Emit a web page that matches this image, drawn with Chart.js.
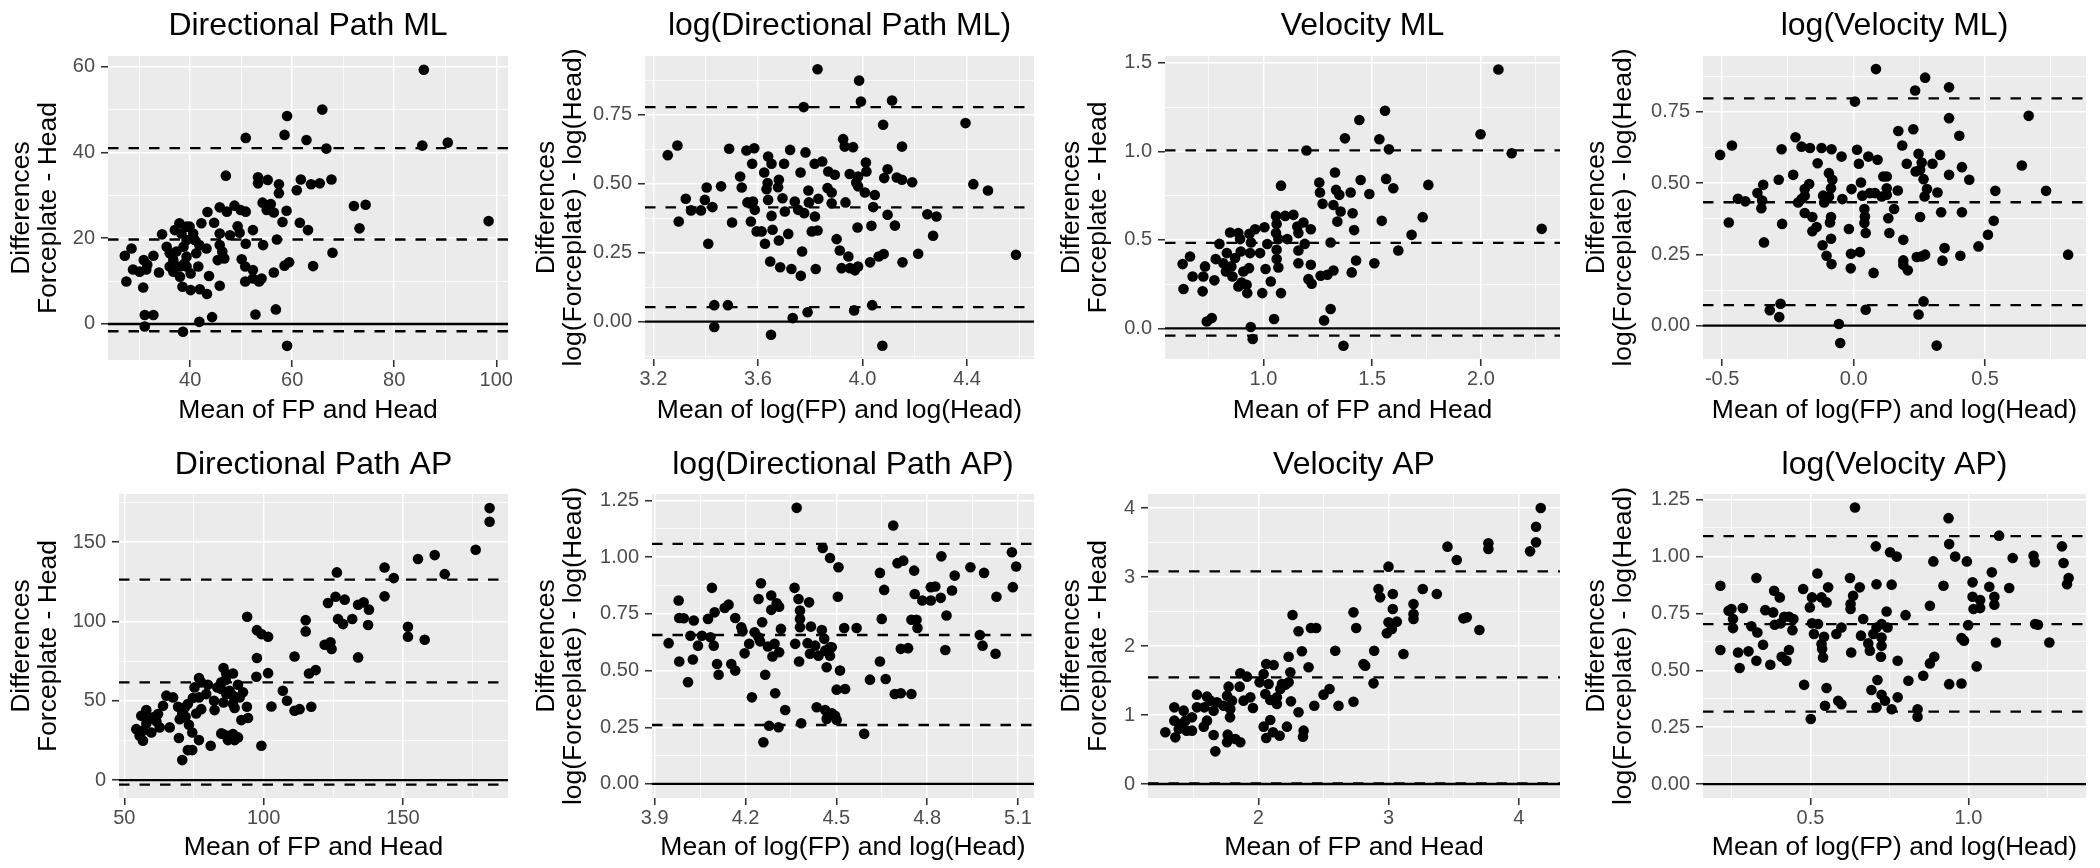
<!DOCTYPE html>
<html>
<head>
<meta charset="utf-8">
<title>Bland-Altman plots</title>
<script src="https://cdn.jsdelivr.net/npm/chart.js@4.4.1/dist/chart.umd.min.js"></script>
<style>
  body { margin: 0; background: #fff; }
  #wrap { position: relative; width: 2100px; height: 868px; overflow: hidden; }
  #wrap canvas { position: absolute; }
</style>
</head>
<body>
<div id="wrap">
  <canvas id="p1" width="525" height="434" style="left:0;top:0"></canvas>
  <canvas id="p2" width="525" height="434" style="left:525px;top:0"></canvas>
  <canvas id="p3" width="525" height="434" style="left:1050px;top:0"></canvas>
  <canvas id="p4" width="525" height="434" style="left:1575px;top:0"></canvas>
  <canvas id="p5" width="525" height="434" style="left:0;top:434px"></canvas>
  <canvas id="p6" width="525" height="434" style="left:525px;top:434px"></canvas>
  <canvas id="p7" width="525" height="434" style="left:1050px;top:434px"></canvas>
  <canvas id="p8" width="525" height="434" style="left:1575px;top:434px"></canvas>
</div>
<script>
// ---- data: [mean, difference] pairs ----
const dirPathML = [[85.8,59.3],[65.9,50.0],[59.0,48.5],[50.9,43.4],[58.5,44.1],[62.8,42.9],[66.7,40.9],[85.5,41.6],[90.5,42.3],[47.0,34.6],[53.3,34.2],[55.2,33.6],[53.3,32.8],[57.4,32.6],[61.7,33.7],[63.7,32.6],[65.4,32.8],[67.7,33.7],[60.9,31.2],[57.4,30.5],[72.1,27.5],[74.4,27.8],[73.2,22.3],[98.5,24.0],[54.2,28.3],[55.8,28.0],[55.0,26.6],[56.4,26.0],[58.9,26.4],[58.1,23.8],[61.5,23.6],[63.1,21.9],[57.0,19.7],[54.3,18.4],[67.9,16.6],[64.1,13.5],[58.5,13.6],[59.4,14.4],[56.4,12.0],[56.8,3.4],[52.8,2.2],[59.0,-5.1],[45.8,27.2],[47.2,26.2],[48.7,27.6],[49.9,26.6],[50.9,26.2],[43.4,26.1],[42.2,23.5],[44.7,23.6],[45.8,21.1],[47.8,20.7],[49.3,22.8],[49.7,21.3],[52.3,21.9],[50.9,18.7],[45.8,18.4],[46.3,16.9],[46.7,15.3],[45.4,14.9],[43.2,17.6],[41.8,18.4],[41.2,16.5],[41.6,13.4],[43.7,11.2],[45.8,8.9],[41.9,8.1],[43.3,7.0],[40.1,7.9],[38.5,8.7],[40.1,11.8],[38.9,14.1],[39.3,15.7],[50.1,15.1],[50.8,13.4],[52.3,12.6],[52.3,10.6],[50.8,9.9],[53.5,9.9],[54.0,10.6],[39.3,22.7],[38.3,21.1],[37.0,21.9],[37.9,23.5],[39.9,22.7],[40.6,21.1],[40.9,19.6],[39.3,19.6],[38.7,18.0],[37.3,16.9],[36.0,16.5],[35.4,18.0],[36.7,14.9],[36.0,13.4],[38.0,13.4],[36.7,12.2],[38.0,11.0],[39.3,13.4],[34.5,20.9],[33.9,12.0],[32.8,15.9],[30.9,14.9],[31.4,12.7],[30.1,12.2],[28.8,12.7],[28.5,17.6],[27.2,15.9],[27.5,9.9],[30.8,8.5],[31.1,2.1],[32.8,2.1],[31.1,-0.6],[38.6,-1.8],[41.8,0.5],[44.3,1.6],[31.6,13.8]];
const dirPathMLLimits = [41.0, 19.7, -1.7];
const dirPathMLX = ['40', '60', '80', '100'];
const dirPathMLY = ['0', '20', '40', '60'];

const logDirPathML = [[3.828,0.914],[3.987,0.873],[3.994,0.797],[4.113,0.801],[3.775,0.777],[4.079,0.713],[4.394,0.719],[4.424,0.498],[4.480,0.475],[4.587,0.242],[3.255,0.603],[3.292,0.638],[3.324,0.445],[3.297,0.363],[3.344,0.403],[3.382,0.403],[3.397,0.441],[3.404,0.486],[3.426,0.415],[3.459,0.490],[3.410,0.282],[3.490,0.626],[3.501,0.359],[3.532,0.526],[3.538,0.486],[3.556,0.620],[3.586,0.628],[3.578,0.572],[3.560,0.432],[3.581,0.435],[3.588,0.405],[3.573,0.363],[3.595,0.327],[3.614,0.327],[3.627,0.282],[3.639,0.598],[3.652,0.572],[3.624,0.540],[3.637,0.502],[3.633,0.480],[3.639,0.441],[3.652,0.383],[3.656,0.333],[3.680,0.514],[3.677,0.487],[3.694,0.447],[3.700,0.572],[3.680,0.294],[3.716,0.318],[3.703,0.399],[3.723,0.622],[3.647,0.218],[3.685,0.197],[3.728,0.191],[3.764,0.166],[3.769,0.254],[3.763,0.540],[3.782,0.613],[3.741,0.435],[3.754,0.405],[3.777,0.393],[3.793,0.475],[3.795,0.432],[3.806,0.327],[3.818,0.381],[3.817,0.572],[3.846,0.580],[3.831,0.445],[3.828,0.330],[3.821,0.191],[3.869,0.544],[3.894,0.532],[3.866,0.484],[3.882,0.468],[3.882,0.429],[3.935,0.432],[3.926,0.661],[3.932,0.634],[3.964,0.632],[3.951,0.535],[3.983,0.526],[3.983,0.490],[3.976,0.504],[4.009,0.468],[4.013,0.576],[4.015,0.544],[4.047,0.459],[4.041,0.415],[4.034,0.347],[3.981,0.341],[3.901,0.299],[3.913,0.258],[3.946,0.236],[3.920,0.194],[3.952,0.194],[3.971,0.186],[3.983,0.200],[4.029,0.215],[4.062,0.236],[4.081,0.245],[4.096,0.552],[4.083,0.520],[4.096,0.387],[4.124,0.348],[4.131,0.522],[4.151,0.634],[4.151,0.514],[4.190,0.505],[4.153,0.215],[4.213,0.246],[4.248,0.389],[4.283,0.381],[4.270,0.311],[3.433,0.060],[3.485,0.060],[3.433,-0.019],[3.650,-0.047],[3.733,0.013],[3.790,0.034],[3.968,0.041],[4.037,0.060],[4.076,-0.087]];
const logDirPathMLLimits = [0.777, 0.414, 0.053];
const logDirPathMLX = ['3.2', '3.6', '4.0', '4.4'];
const logDirPathMLY = ['0.00', '0.25', '0.50', '0.75'];

const velML = [[2.080,1.462],[1.559,1.229],[1.441,1.177],[1.375,1.073],[1.533,1.068],[1.577,1.011],[1.198,1.004],[1.998,1.096],[2.141,0.989],[2.279,0.562],[1.081,0.806],[1.329,0.880],[1.257,0.823],[1.260,0.767],[1.447,0.838],[1.487,0.759],[1.564,0.844],[1.597,0.791],[1.758,0.810],[1.401,0.767],[1.334,0.782],[1.349,0.754],[1.272,0.703],[1.322,0.697],[1.355,0.660],[1.410,0.650],[1.340,0.603],[1.544,0.607],[1.417,0.555],[1.309,0.485],[1.732,0.628],[1.681,0.528],[1.620,0.440],[1.510,0.368],[1.426,0.383],[1.406,0.316],[1.322,0.327],[1.294,0.303],[1.263,0.297],[1.222,0.252],[1.207,0.278],[1.218,0.359],[1.218,0.560],[1.184,0.598],[1.156,0.575],[1.138,0.641],[1.100,0.635],[1.058,0.635],[1.061,0.590],[1.058,0.538],[1.069,0.504],[1.110,0.504],[1.161,0.538],[1.190,0.477],[1.161,0.440],[1.161,0.368],[1.061,0.444],[1.061,0.391],[1.069,0.344],[1.018,0.476],[1.010,0.335],[1.034,0.265],[0.995,0.199],[1.081,0.199],[1.049,0.053],[1.005,0.571],[0.962,0.560],[0.985,0.425],[0.936,0.534],[0.943,0.485],[0.934,0.340],[0.923,0.246],[0.926,0.199],[0.900,0.259],[0.908,0.321],[0.896,0.434],[0.893,0.504],[0.885,0.538],[0.847,0.541],[0.870,0.397],[0.853,0.350],[0.858,0.293],[0.832,0.425],[0.816,0.368],[0.828,0.321],[0.798,0.477],[0.781,0.391],[0.775,0.271],[0.732,0.350],[0.724,0.293],[0.721,0.209],[0.675,0.293],[0.663,0.406],[0.629,0.363],[0.633,0.222],[0.740,0.039],[0.763,0.058],[0.942,0.008],[0.951,-0.060],[1.279,0.045],[1.309,0.109],[1.368,-0.098],[0.885,0.237],[0.939,0.425]];
const velMLLimits = [1.005, 0.483, -0.041];
const velMLX = ['1.0', '1.5', '2.0'];
const velMLY = ['0.0', '0.5', '1.0', '1.5'];

const logVelML = [[0.085,0.900],[0.272,0.870],[0.234,0.825],[0.363,0.836],[0.005,0.786],[0.363,0.728],[0.666,0.736],[0.227,0.689],[0.170,0.683],[0.185,0.632],[0.402,0.666],[0.640,0.562],[0.732,0.473],[0.816,0.249],[0.539,0.473],[0.533,0.368],[0.511,0.319],[0.475,0.278],[0.412,0.398],[0.406,0.245],[0.412,0.556],[0.440,0.512],[0.363,0.529],[0.329,0.599],[0.319,0.467],[0.333,0.398],[0.346,0.272],[0.338,0.228],[0.300,0.568],[0.279,0.479],[0.270,0.453],[0.266,0.514],[0.253,0.547],[0.247,0.603],[0.259,0.572],[0.236,0.541],[0.202,0.568],[0.253,0.381],[0.168,0.474],[0.154,0.409],[0.132,0.377],[0.136,0.325],[0.189,0.301],[0.189,0.229],[0.189,0.214],[0.206,0.194],[0.240,0.241],[0.259,0.243],[0.272,0.249],[0.126,0.523],[0.126,0.482],[0.126,0.459],[0.113,0.523],[0.107,0.453],[0.081,0.465],[0.062,0.465],[0.091,0.582],[0.056,0.593],[0.033,0.456],[0.041,0.409],[0.043,0.383],[0.041,0.360],[0.046,0.325],[0.028,0.502],[-0.008,0.479],[0.020,0.568],[0.013,0.617],[-0.046,0.593],[-0.043,0.444],[-0.018,0.339],[-0.010,0.252],[0.024,0.258],[-0.011,0.201],[0.076,0.185],[0.046,0.056],[-0.056,0.006],[-0.051,-0.061],[0.247,0.039],[0.266,0.085],[0.316,-0.070],[-0.084,0.619],[-0.122,0.623],[-0.094,0.535],[-0.081,0.512],[-0.086,0.482],[-0.094,0.453],[-0.086,0.381],[-0.090,0.362],[-0.086,0.305],[-0.118,0.282],[-0.103,0.245],[-0.084,0.216],[-0.137,0.570],[-0.169,0.497],[-0.116,0.456],[-0.112,0.432],[-0.141,0.346],[-0.157,0.331],[-0.157,0.381],[-0.186,0.395],[-0.166,0.623],[-0.198,0.628],[-0.221,0.661],[-0.186,0.479],[-0.186,0.456],[-0.198,0.444],[-0.211,0.432],[-0.230,0.529],[-0.274,0.619],[-0.285,0.512],[-0.272,0.357],[-0.344,0.494],[-0.366,0.465],[-0.348,0.439],[-0.351,0.412],[-0.341,0.292],[-0.412,0.436],[-0.440,0.445],[-0.475,0.362],[-0.463,0.632],[-0.508,0.599],[-0.319,0.054],[-0.278,0.077],[-0.283,0.030]];
const logVelMLLimits = [0.797, 0.433, 0.072];
const logVelMLX = ['-0.5', '0.0', '0.5'];
const logVelMLY = ['0.00', '0.25', '0.50', '0.75'];

const dirPathAP = [[181.1,171.4],[181.1,162.8],[176.1,145.2],[161.4,141.8],[155.4,139.3],[165.0,129.8],[143.4,134.0],[146.7,127.3],[126.3,130.9],[143.4,115.8],[151.8,96.6],[151.8,90.3],[157.8,88.4],[123.1,111.6],[125.8,115.5],[129.1,113.7],[126.7,101.5],[128.5,98.3],[131.8,101.5],[133.9,110.5],[135.9,112.0],[137.8,107.4],[137.5,97.7],[133.9,77.3],[121.9,85.3],[124.0,86.8],[124.4,82.6],[115.1,100.8],[115.1,93.7],[111.1,77.9],[116.3,67.2],[118.7,69.3],[117.1,46.2],[112.9,44.7],[111.1,43.7],[108.4,50.0],[106.9,56.3],[102.8,46.4],[101.6,67.4],[94.1,102.9],[97.6,94.5],[99.2,92.0],[101.6,90.3],[97.6,76.9],[97.4,65.1],[99.2,21.6],[94.0,46.2],[94.4,39.1],[92.0,37.8],[90.8,60.1],[89.0,53.2],[89.0,47.9],[89.6,45.4],[91.4,52.1],[92.6,55.3],[85.6,70.6],[89.0,67.2],[86.6,66.8],[84.8,61.6],[84.8,57.4],[86.6,54.2],[85.6,48.9],[83.4,58.4],[86.4,63.0],[87.8,56.3],[84.8,29.4],[87.2,27.9],[89.0,29.0],[90.8,26.9],[89.6,25.2],[87.2,25.2],[85.4,29.0],[81.0,21.6],[82.4,44.1],[82.2,50.0],[80.0,60.1],[79.4,54.2],[77.6,61.6],[76.8,64.3],[75.2,58.4],[76.8,52.1],[77.6,44.7],[75.8,42.0],[74.6,51.7],[72.8,47.9],[71.7,45.8],[70.8,42.0],[69.9,38.4],[69.3,46.2],[67.5,52.1],[65.1,53.2],[73.2,34.9],[74.4,30.0],[76.8,25.2],[69.6,26.5],[72.8,18.9],[74.4,18.9],[70.8,12.6],[66.3,33.2],[63.9,46.8],[62.1,41.6],[61.5,37.0],[62.7,33.2],[59.7,30.0],[60.3,39.5],[57.9,44.1],[57.9,35.7],[56.7,31.1],[54.3,32.1],[55.5,28.0],[56.7,24.8],[56.1,40.5],[58.5,37.8],[72.0,39.9]];
const dirPathAPLimits = [126.3, 61.6, -2.9];
const dirPathAPX = ['50', '100', '150'];
const dirPathAPY = ['0', '50', '100', '150'];

const logDirPathAP = [[4.369,1.218],[4.688,1.140],[4.455,1.041],[4.479,0.997],[4.507,0.956],[4.505,0.826],[4.526,0.688],[4.567,0.688],[4.644,0.931],[4.658,0.856],[4.650,0.728],[4.644,0.540],[4.663,0.463],[4.611,0.460],[4.592,0.221],[4.702,0.974],[4.721,0.985],[4.757,0.941],[4.759,0.838],[4.768,0.688],[4.748,0.724],[4.765,0.724],[4.713,0.596],[4.737,0.599],[4.693,0.397],[4.713,0.400],[4.748,0.397],[4.784,0.809],[4.812,0.809],[4.812,0.868],[4.827,0.871],[4.847,1.004],[4.845,0.821],[4.864,0.743],[4.860,0.591],[4.882,0.853],[4.891,0.919],[4.943,0.956],[4.988,0.931],[4.974,0.657],[4.983,0.610],[5.026,0.574],[5.029,0.826],[5.080,1.022],[5.094,0.959],[5.083,0.868],[3.946,0.621],[3.979,0.809],[3.981,0.732],[3.996,0.731],[3.981,0.540],[4.010,0.449],[4.029,0.721],[4.018,0.654],[4.026,0.549],[4.043,0.610],[4.056,0.654],[4.076,0.728],[4.089,0.865],[4.098,0.757],[4.084,0.647],[4.095,0.610],[4.106,0.529],[4.111,0.482],[4.131,0.776],[4.144,0.791],[4.153,0.529],[4.166,0.500],[4.166,0.732],[4.186,0.691],[4.190,0.674],[4.197,0.576],[4.212,0.618],[4.221,0.382],[4.230,0.669],[4.243,0.647],[4.248,0.629],[4.243,0.816],[4.251,0.885],[4.255,0.713],[4.265,0.482],[4.274,0.606],[4.285,0.831],[4.285,0.768],[4.289,0.562],[4.296,0.618],[4.303,0.797],[4.311,0.782],[4.311,0.581],[4.317,0.684],[4.298,0.400],[4.331,0.326],[4.278,0.257],[4.309,0.250],[4.259,0.184],[4.362,0.865],[4.375,0.816],[4.364,0.618],[4.380,0.765],[4.380,0.728],[4.380,0.691],[4.377,0.540],[4.384,0.268],[4.410,0.801],[4.416,0.694],[4.405,0.621],[4.413,0.574],[4.430,0.610],[4.441,0.566],[4.452,0.679],[4.460,0.640],[4.463,0.588],[4.468,0.515],[4.479,0.603],[4.479,0.566],[4.485,0.603],[4.435,0.338],[4.463,0.326],[4.468,0.287],[4.485,0.312],[4.496,0.301],[4.501,0.282],[4.512,0.500],[4.501,0.416],[4.529,0.419]];
const logDirPathAPLimits = [1.059, 0.657, 0.260];
const logDirPathAPX = ['3.9', '4.2', '4.5', '4.8', '5.1'];
const logDirPathAPY = ['0.00', '0.25', '0.50', '0.75', '1.00', '1.25'];

const velAP = [[4.169,4.000],[4.133,3.729],[4.133,3.502],[4.087,3.372],[3.767,3.488],[3.767,3.406],[3.453,3.440],[3.524,3.246],[3.000,3.150],[3.371,2.754],[3.263,2.826],[3.192,2.609],[3.192,2.464],[3.192,2.391],[3.575,2.401],[3.601,2.415],[3.698,2.232],[3.115,1.884],[2.923,2.826],[2.936,2.705],[3.033,2.754],[3.033,2.536],[3.064,2.353],[3.026,2.246],[2.987,2.184],[3.000,2.343],[2.890,1.932],[2.885,1.459],[2.731,2.488],[2.752,2.261],[2.808,1.739],[2.821,1.715],[2.731,1.193],[2.616,1.135],[2.591,1.932],[2.547,1.377],[2.501,1.295],[2.430,1.135],[2.445,2.261],[2.404,2.261],[2.386,1.691],[2.335,1.923],[2.309,2.213],[2.263,2.449],[2.233,1.845],[2.246,1.618],[2.233,1.473],[2.251,1.198],[2.220,0.831],[2.309,1.039],[2.348,0.773],[2.343,0.686],[2.061,1.739],[2.118,1.725],[2.041,1.594],[2.010,1.473],[2.079,1.449],[2.054,1.304],[2.092,1.217],[2.143,1.256],[2.169,1.377],[2.207,1.440],[2.182,1.449],[2.143,1.159],[2.092,0.928],[2.041,0.831],[2.061,0.667],[2.113,0.749],[2.164,0.700],[1.913,1.556],[1.862,1.604],[1.857,1.411],[1.887,1.208],[1.939,1.256],[1.959,1.101],[1.772,1.411],[1.760,1.280],[1.798,1.208],[1.785,1.087],[1.783,0.966],[1.734,1.135],[1.683,1.184],[1.632,1.208],[1.606,1.266],[1.657,1.063],[1.586,1.111],[1.529,1.295],[1.529,1.111],[1.606,0.918],[1.581,0.831],[1.657,0.710],[1.670,0.473],[1.765,0.715],[1.760,0.604],[1.824,0.652],[1.862,0.604],[1.491,0.966],[1.491,0.773],[1.427,1.063],[1.440,0.918],[1.402,0.870],[1.355,1.111],[1.355,0.918],[1.389,0.797],[1.363,0.676],[1.286,0.749],[1.450,0.773]];
const velAPLimits = [3.082, 1.546, 0.010];
const velAPX = ['2', '3', '4'];
const velAPY = ['0', '1', '2', '3', '4'];

const logVelAP = [[0.641,1.215],[0.937,1.168],[1.097,1.091],[0.939,1.054],[0.707,1.044],[0.752,1.018],[0.773,0.999],[0.958,0.999],[0.889,0.978],[0.995,0.978],[1.140,0.993],[1.206,1.003],[1.210,0.974],[1.296,1.044],[1.301,0.971],[1.317,0.905],[1.312,0.878],[1.211,0.703],[1.220,0.700],[1.256,0.622],[1.129,0.861],[1.074,0.930],[1.013,0.886],[1.013,0.823],[1.037,0.808],[1.016,0.769],[1.037,0.773],[1.066,0.867],[1.082,0.823],[1.082,0.788],[1.087,0.622],[0.999,0.698],[0.978,0.641],[0.986,0.630],[1.026,0.517],[0.978,0.442],[0.939,0.439],[0.921,0.871],[0.878,0.783],[0.892,0.559],[0.878,0.530],[0.857,0.476],[0.810,0.454],[0.839,0.329],[0.839,0.296],[0.801,0.742],[0.776,0.542],[0.757,0.876],[0.709,0.878],[0.741,0.758],[0.744,0.688],[0.725,0.703],[0.725,0.644],[0.725,0.608],[0.723,0.559],[0.709,0.688],[0.699,0.659],[0.683,0.618],[0.688,0.586],[0.667,0.725],[0.660,0.652],[0.712,0.457],[0.693,0.413],[0.725,0.392],[0.736,0.366],[0.757,0.329],[0.709,0.337],[0.776,0.381],[0.656,0.864],[0.635,0.827],[0.627,0.791],[0.627,0.769],[0.629,0.578],[0.582,0.659],[0.598,0.688],[0.625,0.905],[0.556,0.864],[0.551,0.798],[0.535,0.820],[0.522,0.925],[0.505,0.820],[0.498,0.776],[0.505,0.706],[0.524,0.703],[0.511,0.659],[0.543,0.647],[0.535,0.615],[0.537,0.593],[0.540,0.556],[0.551,0.422],[0.546,0.344],[0.588,0.366],[0.598,0.351],[0.480,0.436],[0.501,0.286],[0.477,0.857],[0.446,0.725],[0.443,0.676],[0.432,0.735],[0.417,0.735],[0.406,0.706],[0.387,0.700],[0.432,0.589],[0.424,0.542],[0.409,0.559],[0.403,0.820],[0.385,0.849],[0.382,0.754],[0.357,0.764],[0.350,0.612],[0.373,0.524],[0.329,0.905],[0.332,0.666],[0.313,0.693],[0.329,0.542],[0.304,0.583],[0.286,0.773],[0.255,0.725],[0.250,0.769],[0.241,0.761],[0.271,0.578],[0.276,0.510],[0.215,0.871],[0.215,0.589],[0.255,0.685]];
const logVelAPLimits = [1.089, 0.703, 0.318];
const logVelAPX = ['0.5', '1.0'];
const logVelAPY = ['0.00', '0.25', '0.50', '0.75', '1.00', '1.25'];

const rawXTitle = 'Mean of FP and Head';
const logXTitle = 'Mean of log(FP) and log(Head)';
const rawYTitle = ['Differences', 'Forceplate - Head'];
const logYTitle = ['Differences', 'log(Forceplate) - log(Head)'];

// ---- panel setup: plot box inside each canvas [left, top, right, bottom] and axis ranges ----
const panels = [
  { id: 'p1', title: 'Directional Path ML', pts: dirPathML, limits: dirPathMLLimits, xt: dirPathMLX, yt: dirPathMLY, xr: [23.9, 102.3], yr: [-8.4, 62.5], box: [108, 56, 508, 360], log: false },
  { id: 'p2', title: 'log(Directional Path ML)', pts: logDirPathML, limits: logDirPathMLLimits, xt: logDirPathMLX, yt: logDirPathMLY, xr: [3.168, 4.656], yr: [-0.135, 0.962], box: [120, 56, 509, 359], log: true },
  { id: 'p3', title: 'Velocity ML', pts: velML, limits: velMLLimits, xt: velMLX, yt: velMLY, xr: [0.548, 2.363], yr: [-0.173, 1.538], box: [115, 56, 510, 359], log: false },
  { id: 'p4', title: 'log(Velocity ML)', pts: logVelML, limits: logVelMLLimits, xt: logVelMLX, yt: logVelMLY, xr: [-0.573, 0.884], yr: [-0.117, 0.946], box: [128, 56, 511, 359], log: true },
  { id: 'p5', title: 'Directional Path AP', pts: dirPathAP, limits: dirPathAPLimits, xt: dirPathAPX, yt: dirPathAPY, xr: [48.1, 187.7], yr: [-11.3, 180.3], box: [119, 60, 508, 364], log: false },
  { id: 'p6', title: 'log(Directional Path AP)', pts: logDirPathAP, limits: logDirPathAPLimits, xt: logDirPathAPX, yt: logDirPathAPY, xr: [3.891, 5.153], yr: [-0.062, 1.279], box: [127, 60, 509, 364], log: true },
  { id: 'p7', title: 'Velocity AP', pts: velAP, limits: velAPLimits, xt: velAPX, yt: velAPY, xr: [1.153, 4.317], yr: [-0.203, 4.203], box: [98, 60, 510, 364], log: false },
  { id: 'p8', title: 'log(Velocity AP)', pts: logVelAP, limits: logVelAPLimits, xt: logVelAPX, yt: logVelAPY, xr: [0.160, 1.372], yr: [-0.061, 1.274], box: [128, 60, 511, 364], log: true }
];

const W = 525, H = 434;
const FONT = "'Liberation Sans', Arial, Helvetica, sans-serif";
Chart.defaults.font.family = FONT;

// major ticks from the label list, minor ones halfway between (ggplot style)
function buildTicks(labels, min, max) {
  const vals = labels.map(Number);
  const step = vals[1] - vals[0];
  const out = labels.map((l, i) => ({ value: vals[i], isMajor: true, lbl: l }));
  const minors = [vals[0] - step / 2];
  vals.forEach(v => minors.push(v + step / 2));
  minors.forEach(v => out.push({ value: v, isMajor: false, lbl: '' }));
  return out.filter(t => t.value >= min && t.value <= max).sort((a, b) => a.value - b.value);
}

// grey panel background plus the zero line and the mean / limits of agreement
const baPanel = {
  id: 'baPanel',
  beforeDraw(chart) {
    const { ctx, chartArea: a } = chart;
    ctx.save();
    ctx.fillStyle = '#EBEBEB';
    ctx.fillRect(a.left, a.top, a.right - a.left, a.bottom - a.top);
    ctx.restore();
  },
  beforeDatasetsDraw(chart, args, opts) {
    const { ctx, chartArea: a, scales: { y } } = chart;
    ctx.save();
    ctx.beginPath();
    ctx.rect(a.left, a.top, a.right - a.left, a.bottom - a.top);
    ctx.clip();
    ctx.strokeStyle = '#000';
    ctx.lineWidth = 2.3;
    const py0 = y.getPixelForValue(0);
    ctx.beginPath();
    ctx.moveTo(a.left, py0);
    ctx.lineTo(a.right, py0);
    ctx.stroke();
    ctx.setLineDash([10.5, 10]);
    (opts.limits || []).forEach(v => {
      const py = y.getPixelForValue(v);
      ctx.beginPath();
      ctx.moveTo(a.left, py);
      ctx.lineTo(a.right, py);
      ctx.stroke();
    });
    ctx.restore();
  }
};

function axisGrid() {
  return {
    color: '#FFFFFF',
    lineWidth: c => (c.tick && c.tick.isMajor ? 1.5 : 0.75),
    tickLength: 7,
    tickColor: c => (c.tick && c.tick.isMajor ? '#333333' : 'rgba(0,0,0,0)'),
    tickWidth: 1.6
  };
}

panels.forEach(p => {
  const [bl, bt, br, bb] = p.box;
  const titleTop = bt === 56 ? 7 : 12;
  new Chart(document.getElementById(p.id), {
    type: 'scatter',
    data: {
      datasets: [{
        data: p.pts.map(([x, y]) => ({ x, y })),
        pointRadius: 5.3,
        pointHoverRadius: 5.3,
        backgroundColor: '#000000',
        borderWidth: 0
      }]
    },
    options: {
      responsive: false,
      animation: false,
      events: [],
      layout: { padding: { left: 0, top: 0, right: W - br, bottom: 0 } },
      plugins: {
        legend: { display: false },
        tooltip: { enabled: false },
        title: {
          display: true,
          text: p.title,
          fullSize: false,
          color: '#000000',
          font: { size: 32, weight: 'normal', lineHeight: 1.2 },
          padding: { top: titleTop, bottom: bt - titleTop - 38.4 }
        },
        baPanel: { limits: p.limits }
      },
      scales: {
        x: {
          type: 'linear',
          position: 'bottom',
          bounds: 'data',
          min: p.xr[0],
          max: p.xr[1],
          afterBuildTicks: s => { s.ticks = buildTicks(p.xt, p.xr[0], p.xr[1]); },
          afterFit: s => { s.height = H - bb; },
          border: { display: false },
          grid: axisGrid(),
          ticks: {
            autoSkip: false,
            maxRotation: 0,
            color: '#4D4D4D',
            padding: 1,
            font: { size: 20, lineHeight: 1.2 },
            callback: (v, i, ts) => ts[i].lbl
          },
          title: {
            display: true,
            text: p.log ? logXTitle : rawXTitle,
            color: '#000000',
            font: { size: 26.5, lineHeight: 1.03 },
            padding: { top: 0, bottom: bt === 56 ? 10 : 7 }
          }
        },
        y: {
          type: 'linear',
          position: 'left',
          bounds: 'data',
          min: p.yr[0],
          max: p.yr[1],
          afterBuildTicks: s => { s.ticks = buildTicks(p.yt, p.yr[0], p.yr[1]); },
          afterFit: s => { s.width = bl; },
          border: { display: false },
          grid: axisGrid(),
          ticks: {
            autoSkip: false,
            color: '#4D4D4D',
            padding: 6,
            font: { size: 20, lineHeight: 1.2 },
            callback: (v, i, ts) => ts[i].lbl
          },
          title: {
            display: true,
            text: p.log ? logYTitle : rawYTitle,
            color: '#000000',
            font: { size: 26.5, lineHeight: 1.03 },
            padding: { top: 8, bottom: 0 }
          }
        }
      }
    },
    plugins: [baPanel]
  });
});
</script>
</body>
</html>
